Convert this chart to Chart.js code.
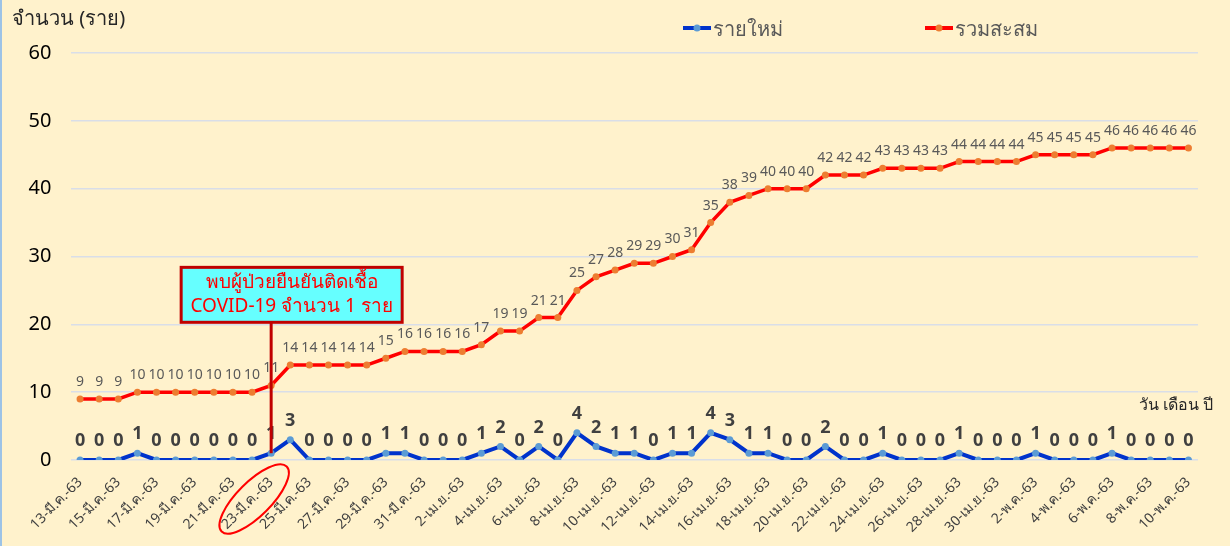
<!DOCTYPE html>
<html><head><meta charset="utf-8">
<script src="https://cdn.jsdelivr.net/npm/chart.js@4.4.0/dist/chart.umd.min.js"></script>
<style>html,body{margin:0;padding:0;background:#FFF2CC;overflow:hidden}canvas{display:block}</style>
</head><body><canvas id="c" width="1230" height="546"></canvas>
<script>
const dates = [
 "13-มี.ค.-63","14-มี.ค.-63","15-มี.ค.-63","16-มี.ค.-63","17-มี.ค.-63","18-มี.ค.-63","19-มี.ค.-63","20-มี.ค.-63","21-มี.ค.-63","22-มี.ค.-63",
 "23-มี.ค.-63","24-มี.ค.-63","25-มี.ค.-63","26-มี.ค.-63","27-มี.ค.-63","28-มี.ค.-63","29-มี.ค.-63","30-มี.ค.-63","31-มี.ค.-63",
 "1-เม.ย.-63","2-เม.ย.-63","3-เม.ย.-63","4-เม.ย.-63","5-เม.ย.-63","6-เม.ย.-63","7-เม.ย.-63","8-เม.ย.-63","9-เม.ย.-63","10-เม.ย.-63",
 "11-เม.ย.-63","12-เม.ย.-63","13-เม.ย.-63","14-เม.ย.-63","15-เม.ย.-63","16-เม.ย.-63","17-เม.ย.-63","18-เม.ย.-63","19-เม.ย.-63","20-เม.ย.-63",
 "21-เม.ย.-63","22-เม.ย.-63","23-เม.ย.-63","24-เม.ย.-63","25-เม.ย.-63","26-เม.ย.-63","27-เม.ย.-63","28-เม.ย.-63","29-เม.ย.-63","30-เม.ย.-63",
 "1-พ.ค.-63","2-พ.ค.-63","3-พ.ค.-63","4-พ.ค.-63","5-พ.ค.-63","6-พ.ค.-63","7-พ.ค.-63","8-พ.ค.-63","9-พ.ค.-63","10-พ.ค.-63"
];
const newCases = [0,0,0,1,0,0,0,0,0,0, 1,3,0,0,0,0,1,1,0, 0,0,1,2,0,2,0,4,2,1, 1,0,1,1,4,3,1,1,0,0, 2,0,0,1,0,0,0,1,0,0, 0,1,0,0,0,1,0,0,0,0];
const totalCases = [9,9,9,10,10,10,10,10,10,10, 11,14,14,14,14,14,15,16,16, 16,16,17,19,19,21,21,25,27,28, 29,29,30,31,35,38,39,40,40,40, 42,42,42,43,43,43,43,44,44,44, 44,45,45,45,45,46,46,46,46,46];
const yMin = 0, yMax = 60, yStep = 10;
const seriesNames = ["รายใหม่","รวมสะสม"];
const yTitle = "จำนวน (ราย)";
const xTitle = "วัน เดือน ปี";
const noteLines = ["พบผู้ป่วยยืนยันติดเชื้อ","COVID-19 จำนวน 1 ราย"];
const noteIndex = 10;

const FONT = "'Noto Sans','DejaVu Sans',Tahoma,sans-serif";

const overlay = {
  id:'overlay',
  beforeDraw(chart){
    const c = chart.ctx;
    c.save(); c.fillStyle='#FFF2CC'; c.fillRect(0,0,chart.width,chart.height);
    c.fillStyle='#9DC3E6'; c.fillRect(0,0,2,chart.height); c.restore();
  },
  afterDatasetsDraw(chart){
    const c = chart.ctx, xs = chart.scales.x, ys = chart.scales.y;
    c.save();
    c.textAlign='center'; c.textBaseline='middle';
    c.font = "14px "+FONT; c.fillStyle='#595959';
    totalCases.forEach((v,i)=>{ c.fillText(String(v), xs.getPixelForValue(i), ys.getPixelForValue(v)-17); });
    c.font = "bold 18px "+FONT; c.fillStyle='#404040';
    newCases.forEach((v,i)=>{ c.fillText(String(v), xs.getPixelForValue(i), ys.getPixelForValue(v)-19); });
    const px = xs.getPixelForValue(noteIndex);
    const boxL = px-90, boxR = px+131, boxT = ys.getPixelForValue(28.4), boxB = ys.getPixelForValue(20.3);
    c.strokeStyle='#C00000'; c.lineWidth=3;
    c.beginPath(); c.moveTo(px, boxB); c.lineTo(px, ys.getPixelForValue(newCases[noteIndex])); c.stroke();
    c.fillStyle='#66FFFF'; c.fillRect(boxL,boxT,boxR-boxL,boxB-boxT);
    c.strokeRect(boxL,boxT,boxR-boxL,boxB-boxT);
    c.fillStyle='#FF0000'; c.font="19px "+FONT;
    const cx=(boxL+boxR)/2, h=boxB-boxT;
    c.fillText(noteLines[0], cx, boxT+h*0.28);
    c.fillText(noteLines[1], cx, boxT+h*0.72);
    c.strokeStyle='#FF0000'; c.lineWidth=2;
    c.beginPath(); c.ellipse(px-17, 499, 46, 17, -Math.PI/4, 0, Math.PI*2); c.stroke();
    c.fillStyle='#262626'; c.font="16px "+FONT; c.textAlign='right';
    c.fillText(xTitle, xs.right+15, ys.getPixelForValue(8));
    c.restore();
  },
  afterDraw(chart){
    const c = chart.ctx;
    c.save();
    c.fillStyle='#262626'; c.font="20px "+FONT; c.textAlign='left'; c.textBaseline='middle';
    c.fillText(yTitle, 12, 19);
    const items=[{x:683,line:'#0033CC',pt:'#5B9BD5',t:seriesNames[0]},{x:925,line:'#FF0000',pt:'#ED7D31',t:seriesNames[1]}];
    items.forEach(it=>{
      c.strokeStyle=it.line; c.lineWidth=4;
      c.beginPath(); c.moveTo(it.x,28); c.lineTo(it.x+28,28); c.stroke();
      c.fillStyle=it.pt; c.beginPath(); c.arc(it.x+14,28,3.5,0,Math.PI*2); c.fill();
      c.fillStyle='#595959'; c.font="20px "+FONT; c.fillText(it.t, it.x+30, 30);
    });
    c.restore();
  }
};

new Chart(document.getElementById('c'),{
  type:'line',
  data:{labels:dates,datasets:[
    {label:seriesNames[0],data:newCases,borderColor:'#0033CC',borderWidth:4,pointBackgroundColor:'#5B9BD5',pointBorderColor:'#5B9BD5',pointRadius:3.5,pointBorderWidth:0,tension:0},
    {label:seriesNames[1],data:totalCases,borderColor:'#FF0000',borderWidth:3.5,pointBackgroundColor:'#ED7D31',pointBorderColor:'#ED7D31',pointRadius:3.5,pointBorderWidth:0,tension:0}
  ]},
  options:{
    responsive:false, animation:false, devicePixelRatio:1,
    layout:{padding:{left:0,right:32,top:53,bottom:0}},
    plugins:{legend:{display:false},tooltip:{enabled:false}},
    scales:{
      x:{offset:true,
        grid:{display:false,drawTicks:false},border:{display:false},
        ticks:{autoSkip:false,maxRotation:45,minRotation:45,padding:14,color:'#404040',font:{size:14,family:FONT},
          callback:function(v,i){return i%2===0?dates[i]:'';}},
        afterFit(s){s.height=86;}
      },
      y:{min:yMin,max:yMax,
        grid:{color:'#D9DEE8',lineWidth:1.5,drawTicks:false},border:{display:false},
        ticks:{stepSize:yStep,padding:19,color:'#000000',font:{size:20,family:FONT}},
        afterFit(s){s.width=70.5;}
      }
    }
  },
  plugins:[overlay]
});
</script></body></html>
